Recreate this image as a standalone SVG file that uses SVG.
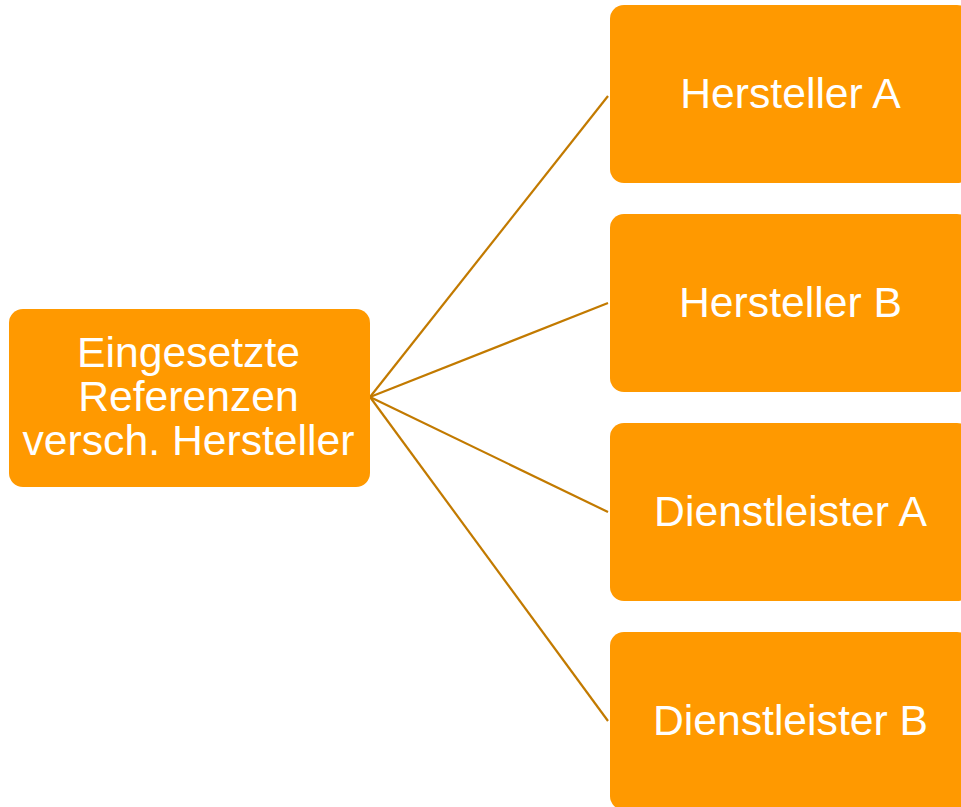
<svg xmlns="http://www.w3.org/2000/svg" width="961" height="807" viewBox="0 0 961 807">
<style>
.node{fill:#FF9900;}
.lbl{font-family:"Liberation Sans",Arial,sans-serif;font-size:42.7px;fill:#FFFFFF;text-anchor:middle;}
.conn{stroke:#C27A00;stroke-width:2.2;fill:none;}
</style>
<rect width="961" height="807" fill="#FFFFFF"/>
<g id="connectors">
<line class="conn" x1="370" y1="397" x2="608" y2="96"/>
<line class="conn" x1="370" y1="397" x2="608" y2="303"/>
<line class="conn" x1="370" y1="397" x2="608" y2="512"/>
<line class="conn" x1="370" y1="397" x2="608" y2="721"/>
</g>
<g id="root">
<rect class="node" x="9" y="309" width="361" height="178" rx="14"/>
<text class="lbl" x="188.5" y="367">Eingesetzte</text>
<text class="lbl" x="188.5" y="411">Referenzen</text>
<text class="lbl" x="188.5" y="455">versch. Hersteller</text>
</g>
<g id="herstellerA">
<rect class="node" x="610" y="5" width="361" height="178" rx="14"/>
<text class="lbl" x="790.5" y="108">Hersteller A</text>
</g>
<g id="herstellerB">
<rect class="node" x="610" y="214" width="361" height="178" rx="14"/>
<text class="lbl" x="790.5" y="317">Hersteller B</text>
</g>
<g id="dienstleisterA">
<rect class="node" x="610" y="423" width="361" height="178" rx="14"/>
<text class="lbl" x="790.5" y="526">Dienstleister A</text>
</g>
<g id="dienstleisterB">
<rect class="node" x="610" y="632" width="361" height="178" rx="14"/>
<text class="lbl" x="790.5" y="735">Dienstleister B</text>
</g>
</svg>
